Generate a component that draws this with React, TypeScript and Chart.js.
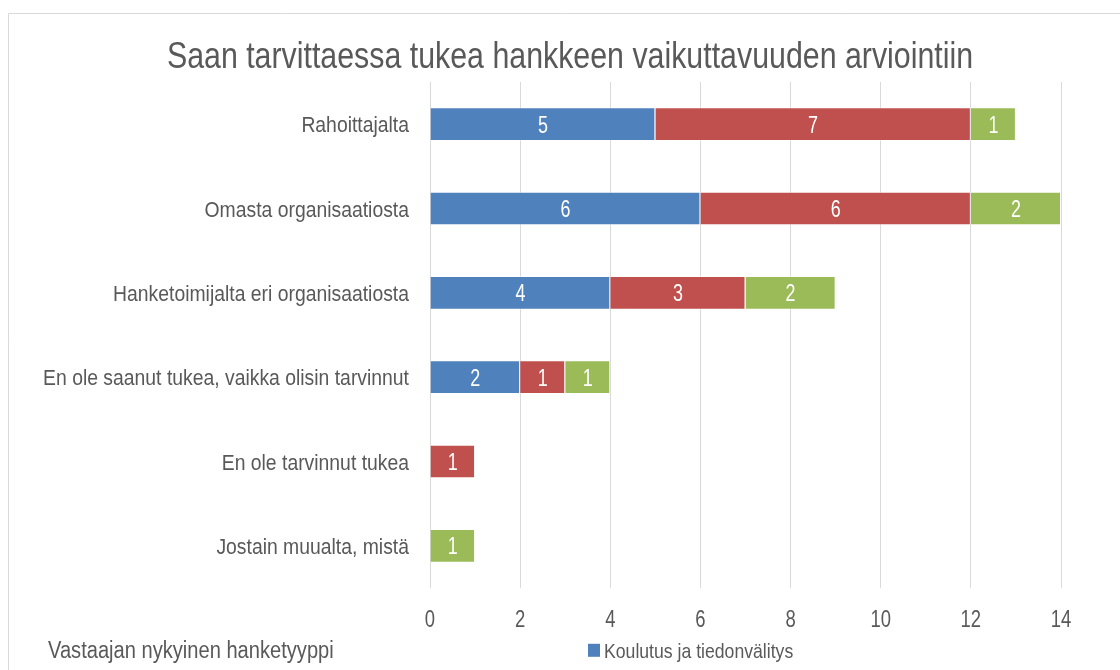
import React, { useEffect, useRef } from "react";
import { Chart, registerables } from "chart.js";

Chart.register(...registerables);

const chartTitle = "Saan tarvittaessa tukea hankkeen vaikuttavuuden arviointiin";
const legendTitle = "Vastaajan nykyinen hanketyyppi";
const categories = [
  "Rahoittajalta",
  "Omasta organisaatiosta",
  "Hanketoimijalta eri organisaatiosta",
  "En ole saanut tukea, vaikka olisin tarvinnut",
  "En ole tarvinnut tukea",
  "Jostain muualta, mistä",
];
const seriesNames = ["Koulutus ja tiedonvälitys", "Tutkimus ja kehittäminen", "Muu hanketyyppi"];
const seriesColors = ["#4f81bd", "#c0504d", "#9bbb59"];
const blueValues = [5, 6, 4, 2, 0, 0];
const redValues = [7, 6, 3, 1, 1, 0];
const greenValues = [1, 2, 2, 1, 0, 1];
const xTicks = [0, 2, 4, 6, 8, 10, 12, 14];

const FONT = "'Liberation Sans', Arial, sans-serif";
const TEXT = "#595959";

function narrowText(
  ctx: CanvasRenderingContext2D,
  text: string,
  x: number,
  y: number,
  size: number,
  align: "left" | "right" | "center",
  color: string,
  sx: number
) {
  ctx.save();
  ctx.font = `${size}px ${FONT}`;
  ctx.fillStyle = color;
  ctx.textBaseline = "alphabetic";
  ctx.textAlign = align;
  ctx.translate(x, y);
  ctx.scale(sx, 1);
  ctx.fillText(text, 0, 0);
  ctx.restore();
}

const decorPlugin = {
  id: "decor",
  beforeDraw(chart: any) {
    const ctx = chart.ctx;
    ctx.save();
    ctx.fillStyle = "#ffffff";
    ctx.fillRect(0, 0, chart.width, chart.height);
    ctx.strokeStyle = "#d9d9d9";
    ctx.lineWidth = 1;
    ctx.beginPath();
    ctx.moveTo(8.5, chart.height);
    ctx.lineTo(8.5, 13.5);
    ctx.lineTo(chart.width, 13.5);
    ctx.stroke();
    ctx.restore();
  },
  afterDraw(chart: any) {
    const ctx = chart.ctx;
    const xs = chart.scales.x;
    const ys = chart.scales.y;
    // title
    narrowText(ctx, chartTitle, 570, 68, 37, "center", TEXT, 0.82);
    // category labels
    categories.forEach((c, i) => {
      const y = ys.getPixelForValue(i);
      narrowText(ctx, c, 409, y + 8, 22, "right", TEXT, 0.88);
    });
    // x tick labels
    xTicks.forEach((v) => {
      narrowText(ctx, String(v), xs.getPixelForValue(v), 626.5, 24, "center", TEXT, 0.77);
    });
    // data labels
    chart.data.datasets.forEach((ds: any, i: number) => {
      const meta = chart.getDatasetMeta(i);
      meta.data.forEach((el: any, j: number) => {
        const v = ds.data[j];
        if (!v) return;
        const cx = (el.x + el.base) / 2;
        narrowText(ctx, String(v), cx, el.y + 8.5, 23, "center", "#ffffff", 0.78);
      });
    });
    // legend
    narrowText(ctx, legendTitle, 48, 658.3, 23, "left", TEXT, 0.874);
    const lx = 588;
    let ly = 658.3;
    seriesNames.forEach((name, i) => {
      ctx.save();
      ctx.fillStyle = seriesColors[i];
      ctx.fillRect(lx, ly - 14.5, 12, 13);
      ctx.restore();
      narrowText(ctx, name, lx + 16, ly, 21, "left", TEXT, 0.84);
      ly += 30;
    });
  },
};

export default function App() {
  const ref = useRef<HTMLCanvasElement>(null);
  useEffect(() => {
    if (!ref.current) return;
    const toData = (arr: number[]) => arr.map((v) => (v ? v : null));
    const chart = new Chart(ref.current, {
      type: "bar",
      data: {
        labels: categories,
        datasets: [blueValues, redValues, greenValues].map((vals, i) => ({
          label: seriesNames[i],
          data: toData(vals),
          backgroundColor: seriesColors[i],
          borderColor: "rgba(255,255,255,0.45)",
          borderWidth: 1,
          barPercentage: 0.4,
          categoryPercentage: 1,
        })),
      },
      options: {
        indexAxis: "y",
        responsive: false,
        animation: false,
        layout: { padding: { left: 0, right: 59, top: 82, bottom: 0 } },
        plugins: {
          legend: { display: false },
          title: { display: false },
          tooltip: { enabled: false },
        },
        scales: {
          x: {
            stacked: true,
            min: 0,
            max: 14,
            afterFit: (s: any) => {
              s.height = 82;
            },
            afterBuildTicks: (s: any) => {
              s.ticks = xTicks.map((v) => ({ value: v }));
            },
            grid: { color: "#d9d9d9", lineWidth: 1, drawTicks: false },
            border: { display: false },
            ticks: { display: false },
          },
          y: {
            stacked: true,
            afterFit: (s: any) => {
              s.width = 430;
            },
            grid: { display: false, drawTicks: false },
            border: { display: false },
            ticks: { display: false },
          },
        },
      },
      plugins: [decorPlugin],
    });
    return () => chart.destroy();
  }, []);
  return (
    <canvas
      ref={ref}
      width={1120}
      height={670}
      style={{ position: "fixed", left: 0, top: 0, display: "block" }}
    />
  );
}
